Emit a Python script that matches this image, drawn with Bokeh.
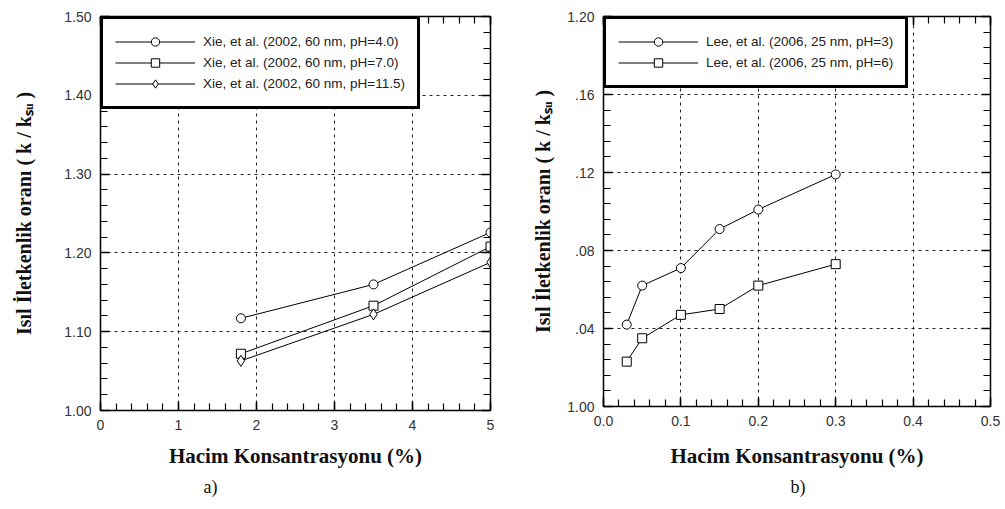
from bokeh.plotting import figure
from bokeh.models import (Range1d, LinearAxis, SingleIntervalTicker, NumeralTickFormatter,
                          CustomJSTickFormatter, Legend, LegendItem)
from bokeh.layouts import row
from bokeh.embed import file_html
from bokeh.resources import INLINE

# ---------------- data ----------------
xie_x = [1.8, 3.5, 5.0]
xie_ph40 = [1.117, 1.160, 1.226]
xie_ph70 = [1.072, 1.133, 1.208]
xie_ph115 = [1.063, 1.122, 1.188]
xie_labels = ["Xie, et al. (2002, 60 nm, pH=4.0)",
              "Xie, et al. (2002, 60 nm, pH=7.0)",
              "Xie, et al. (2002, 60 nm, pH=11.5)"]

lee_x = [0.03, 0.05, 0.10, 0.15, 0.20, 0.30]
lee_ph3 = [1.042, 1.062, 1.071, 1.091, 1.101, 1.119]
lee_ph6 = [1.023, 1.035, 1.047, 1.050, 1.062, 1.073]
lee_labels = ["Lee, et al. (2006, 25 nm, pH=3)",
              "Lee, et al. (2006, 25 nm, pH=6)"]

y_title = "Isıl İletkenlik oranı ( k / kₛᵤ )"
x_title = "Hacim Konsantrasyonu (%)"

SANS = "Liberation Sans"
SERIF = "Liberation Serif"


def style_axis(ax, ticker, fmt, show_labels):
    ax.ticker = ticker
    ax.formatter = fmt
    ax.major_tick_in = 9
    ax.major_tick_out = 0
    ax.minor_tick_in = 7
    ax.minor_tick_out = 0
    ax.axis_line_width = 1.5
    ax.axis_line_color = "black"
    ax.major_tick_line_color = "black"
    ax.minor_tick_line_color = "black"
    ax.major_tick_line_width = 1.5
    ax.minor_tick_line_width = 1.2
    if show_labels:
        ax.major_label_text_font = SANS
        ax.major_label_text_font_size = "14px"
        ax.major_label_text_color = "#333333"
        ax.major_label_standoff = 9
    else:
        ax.major_label_text_font_size = "0px"
        ax.major_label_text_color = None
        ax.major_label_standoff = 0


def style_title(ax, text, standoff, size):
    ax.axis_label = text
    ax.axis_label_text_font = SERIF
    ax.axis_label_text_font_size = size
    ax.axis_label_text_font_style = "bold"
    ax.axis_label_text_color = "#111111"
    ax.axis_label_standoff = standoff


def make_fig(xr, yr, fw, fh, bl, br, bt, bb, xtick, ytick, xfmt, yfmt, tag, tag_offset,
             ylab_standoff, xlab_standoff):
    p = figure(frame_width=fw, frame_height=fh, x_range=Range1d(*xr), y_range=Range1d(*yr),
               output_backend="svg", toolbar_location=None,
               min_border_left=bl, min_border_right=br, min_border_top=bt, min_border_bottom=bb,
               background_fill_color="white", border_fill_color="white",
               title=tag, title_location="below")
    p.outline_line_color = None
    p.title.align = "left"
    p.title.offset = tag_offset
    p.title.text_font = SERIF
    p.title.text_font_size = "18px"
    p.title.text_font_style = "normal"
    p.title.text_color = "#111111"
    p.title.standoff = 8
    xb = p.xaxis[0]
    yl = p.yaxis[0]
    style_axis(xb, xtick, xfmt, True)
    style_axis(yl, ytick, yfmt, True)
    style_title(yl, y_title, ylab_standoff, "20px")
    style_title(xb, x_title, xlab_standoff, "21px")
    top = LinearAxis()
    right = LinearAxis()
    style_axis(top, xtick, xfmt, False)
    style_axis(right, ytick, yfmt, False)
    p.add_layout(top, "above")
    p.add_layout(right, "right")
    for g, t in ((p.xgrid[0], xtick), (p.ygrid[0], ytick)):
        g.ticker = t
        g.grid_line_color = "#222222"
        g.grid_line_dash = "3 4"
        g.grid_line_width = 1
    return p


def add_legend(p, items):
    lg = Legend(items=items, location="top_left", margin=0, padding=12, spacing=0,
                glyph_width=80, glyph_height=21, label_height=21, label_standoff=8,
                border_line_color="black", border_line_width=3, border_line_alpha=1.0,
                background_fill_color="white", background_fill_alpha=1.0,
                label_text_font=SANS, label_text_font_size="13.5px", label_text_color="#222222")
    p.add_layout(lg)


def series(p, x, y, marker, size):
    l = p.line(x, y, line_color="black", line_width=1)
    s = p.scatter(x, y, marker=marker, size=size, fill_color="white",
                  line_color="black", line_width=1)
    return [l, s]


# ---------------- figure a ----------------
pa = make_fig((0, 5), (1.0, 1.5), 390, 394, 100, 10, 16, 99,
              SingleIntervalTicker(interval=1, num_minor_ticks=5),
              SingleIntervalTicker(interval=0.1, num_minor_ticks=5),
              NumeralTickFormatter(format="0"), NumeralTickFormatter(format="0.00"),
              "a)", 103, 26, 11)
ra1 = series(pa, xie_x, xie_ph40, "circle", 9)
ra2 = series(pa, xie_x, xie_ph70, "square", 9)
ra3 = series(pa, xie_x, xie_ph115, "diamond", 11)
add_legend(pa, [LegendItem(label=xie_labels[0], renderers=ra1),
                LegendItem(label=xie_labels[1], renderers=ra2),
                LegendItem(label=xie_labels[2], renderers=ra3)])

# ---------------- figure b ----------------
fmt_b = CustomJSTickFormatter(code="""
const s = tick.toFixed(2);
return (s == "1.00" || s == "1.20") ? s : s.slice(1);
""")
pb = make_fig((0, 0.5), (1.0, 1.2), 387, 390, 103, 15, 16, 103,
              SingleIntervalTicker(interval=0.1, num_minor_ticks=5),
              SingleIntervalTicker(interval=0.04, num_minor_ticks=5),
              NumeralTickFormatter(format="0.0"), fmt_b,
              "b)", 187, 10, 15)
rb1 = series(pb, lee_x, lee_ph3, "circle", 9)
rb2 = series(pb, lee_x, lee_ph6, "square", 9)
add_legend(pb, [LegendItem(label=lee_labels[0], renderers=rb1),
                LegendItem(label=lee_labels[1], renderers=rb2)])

layout = row(pa, pb, spacing=0)
open("out.html", "w").write(file_html(layout, INLINE))
